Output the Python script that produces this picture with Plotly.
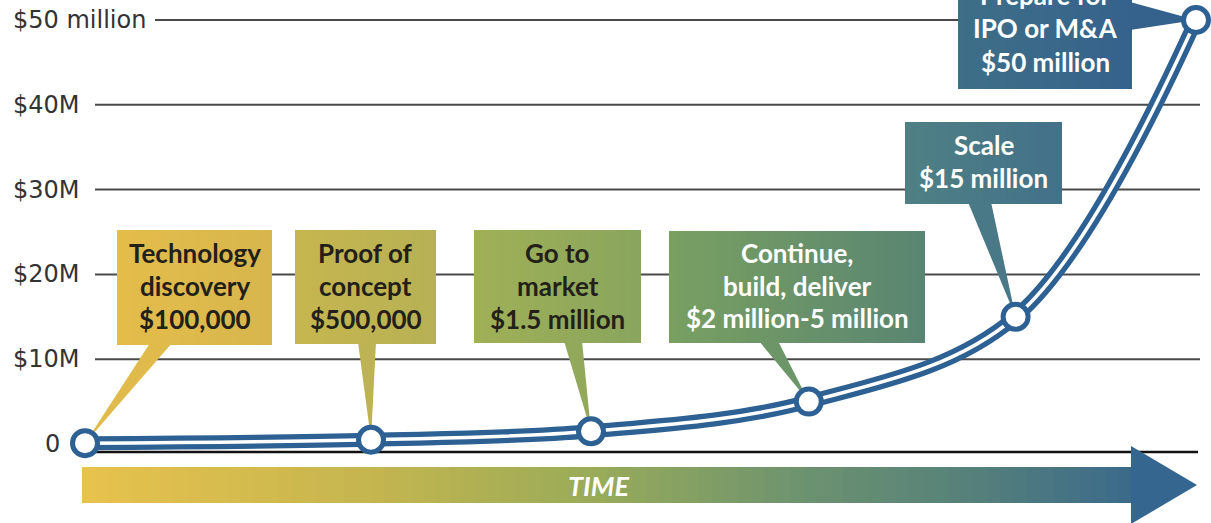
import plotly.graph_objects as go

# ---- data -------------------------------------------------------------
stages = ["Technology discovery", "Proof of concept", "Go to market",
          "Continue, build, deliver", "Scale", "Prepare for IPO or M&A"]
stage_time = [0, 13, 23, 32.9, 42.3, 50.5]      # position along the time axis
funding_musd = [0.1, 0.5, 1.5, 5, 15, 50]        # capital needed, $ millions

callout_lines = [
    ["Technology", "discovery", "$100,000"],
    ["Proof of", "concept", "$500,000"],
    ["Go to", "market", "$1.5 million"],
    ["Continue,", "build, deliver", "$2 million-5 million"],
    ["Scale", "$15 million"],
    ["Prepare for", "IPO or M&A", "$50 million"],
]

tick_values = [0, 10, 20, 30, 40, 50]
tick_labels = ["0", "$10M", "$20M", "$30M", "$40M", "$50 million"]

# ---- page geometry (pixels) ------------------------------------------
W, H = 1211, 523
X0_PX, PX_PER_T = 85, 22.0
Y0_PX, PX_PER_M = 444, 8.48


def x_of(px):
    return (px - X0_PX) / PX_PER_T


def y_of(py):
    return (Y0_PX - py) / PX_PER_M


def hex_to_rgb(c):
    c = c.lstrip("#")
    return tuple(int(c[i:i + 2], 16) for i in (0, 2, 4))


def mix(stops, f):
    """Colour at fraction f along a list of (position, hex) stops."""
    f = min(max(f, 0.0), 1.0)
    for (p0, c0), (p1, c1) in zip(stops[:-1], stops[1:]):
        if p0 <= f <= p1:
            u = 0 if p1 == p0 else (f - p0) / (p1 - p0)
            a, b = hex_to_rgb(c0), hex_to_rgb(c1)
            return "rgb(%d,%d,%d)" % tuple(round(a[i] + (b[i] - a[i]) * u) for i in range(3))
    return stops[-1][1]


shapes = []
annotations = []


def gradient_rect(left, right, top, bottom, stops, n=36):
    for i in range(n):
        xa = left + (right - left) * i / n
        xb = left + (right - left) * (i + 1) / n + (0.8 if i < n - 1 else 0)
        col = mix(stops, (i + 0.5) / n)
        shapes.append(dict(type="rect", layer="below", xref="x", yref="y",
                           x0=x_of(xa), x1=x_of(xb), y0=y_of(bottom), y1=y_of(top),
                           fillcolor=col, line=dict(width=0)))


# ---- grid lines ---------------------------------------------------------
grid_start_px = [82, 95, 95, 95, 95, 155]
for v, lab, gx in zip(tick_values, tick_labels, grid_start_px):
    if v == 0:
        shapes.append(dict(type="line", layer="below", xref="x", yref="y",
                           x0=x_of(gx), x1=x_of(1198), y0=y_of(452), y1=y_of(452),
                           line=dict(color="#111111", width=2.5)))
        annotations.append(dict(x=x_of(52), y=v, xref="x", yref="y", text=lab,
                                showarrow=False, xanchor="center", yanchor="middle",
                                font=dict(family="DejaVu Sans", size=24, color="#333333")))
    else:
        shapes.append(dict(type="line", layer="below", xref="x", yref="y",
                           x0=x_of(gx), x1=x_of(1200), y0=v, y1=v,
                           line=dict(color="#4a4a4a", width=2)))
        annotations.append(dict(x=x_of(11), y=v, xref="x", yref="y", text=lab,
                                showarrow=False, xanchor="left", yanchor="middle",
                                font=dict(family="DejaVu Sans", size=24, color="#333333")))

# ---- time arrow -----------------------------------------------------------
arrow_stops = [(0.0, "#e8c24d"), (0.28, "#c4b54f"), (0.49, "#98ab59"),
               (0.69, "#6c9270"), (0.85, "#55807a"), (1.0, "#3b6a8b")]
gradient_rect(82, 1132, 467, 503, arrow_stops, n=80)
shapes.append(dict(type="path", layer="below", xref="x", yref="y",
                   path="M %f,%f L %f,%f L %f,%f Z" % (x_of(1131), y_of(446), x_of(1131), y_of(524),
                                                        x_of(1197), y_of(485)),
                   fillcolor="#356690", line=dict(width=0)))
annotations.append(dict(x=x_of(598), y=y_of(485), xref="x", yref="y", text="TIME",
                        showarrow=False, xanchor="center", yanchor="middle",
                        font=dict(family="Lato, Roboto, sans-serif", size=27, color="white",
                                  weight="bold", style="italic")))

# ---- callout boxes ---------------------------------------------------------
boxes = [
    dict(l=117, r=272, t=230, b=345, stops=[(0, "#e4bd4b"), (1, "#d7b64d")], fg="#231f1a",
         lines_y=[253, 286, 319], base=[(150, 343), (172, 343)]),
    dict(l=295, r=436, t=230, b=344, stops=[(0, "#c6b64f"), (1, "#b7b155")], fg="#231f1a",
         lines_y=[253, 286, 319], base=[(358, 342), (376, 342)]),
    dict(l=474, r=641, t=230, b=343, stops=[(0, "#a0b056"), (1, "#89a55e")], fg="#231f1a",
         lines_y=[253, 286, 319], base=[(564, 341), (582, 341)]),
    dict(l=669, r=925, t=231, b=343, stops=[(0, "#79a061"), (1, "#5a8572")], fg="white",
         lines_y=[253, 286, 318], base=[(759, 341), (778, 341)]),
    dict(l=905, r=1062, t=122, b=204, stops=[(0, "#4f8084"), (1, "#42718a")], fg="white",
         lines_y=[145, 178], base=[(968, 202), (991, 202)]),
    dict(l=958, r=1132, t=-40, b=89, stops=[(0, "#3e6f87"), (1, "#35628c")], fg="white",
         lines_y=[-5, 28, 62], base=[(1130, 2), (1130, 30)]),
]

for box, lines, t, v in zip(boxes, callout_lines, stage_time, funding_musd):
    gradient_rect(box["l"], box["r"], box["t"], box["b"], box["stops"])
    (bx1, by1), (bx2, by2) = box["base"]
    fmid = ((bx1 + bx2) / 2 - box["l"]) / (box["r"] - box["l"])
    shapes.append(dict(type="path", layer="below", xref="x", yref="y",
                       path="M %f,%f L %f,%f L %f,%f Z" % (x_of(bx1), y_of(by1), x_of(bx2), y_of(by2), t, v),
                       fillcolor=mix(box["stops"], fmid), line=dict(width=0)))
    cx = (box["l"] + box["r"]) / 2
    for txt, ly in zip(lines, box["lines_y"]):
        # paper-referenced y so lines running past the top edge are still drawn
        annotations.append(dict(x=x_of(cx), y=1 - ly / H, xref="x", yref="paper", text=txt,
                                showarrow=False, xanchor="center", yanchor="middle",
                                font=dict(family="Lato, Roboto, sans-serif", size=26,
                                          color=box["fg"], weight="bold")))

# ---- growth curve -------------------------------------------------------------
LINE_BLUE = "#2d6193"
fig = go.Figure()
fig.add_trace(go.Scatter(x=stage_time, y=funding_musd, mode="lines",
                         line=dict(color=LINE_BLUE, width=14, shape="spline", smoothing=1.0),
                         hoverinfo="skip", showlegend=False))
fig.add_trace(go.Scatter(x=stage_time, y=funding_musd, mode="lines",
                         line=dict(color="white", width=3.5, shape="spline", smoothing=1.0),
                         hoverinfo="skip", showlegend=False))
fig.add_trace(go.Scatter(x=stage_time, y=funding_musd, mode="markers", text=stages,
                         marker=dict(size=25, color="white", line=dict(color=LINE_BLUE, width=5)),
                         hovertemplate="%{text}<br>$%{y}M<extra></extra>", showlegend=False))

fig.update_layout(
    width=W, height=H,
    margin=dict(l=0, r=0, t=0, b=0),
    paper_bgcolor="white", plot_bgcolor="white",
    xaxis=dict(range=[x_of(0), x_of(W)], visible=False, fixedrange=True),
    yaxis=dict(range=[y_of(H), y_of(0)], visible=False, fixedrange=True),
    shapes=shapes,
    annotations=annotations,
)

fig.write_html("out.html")
